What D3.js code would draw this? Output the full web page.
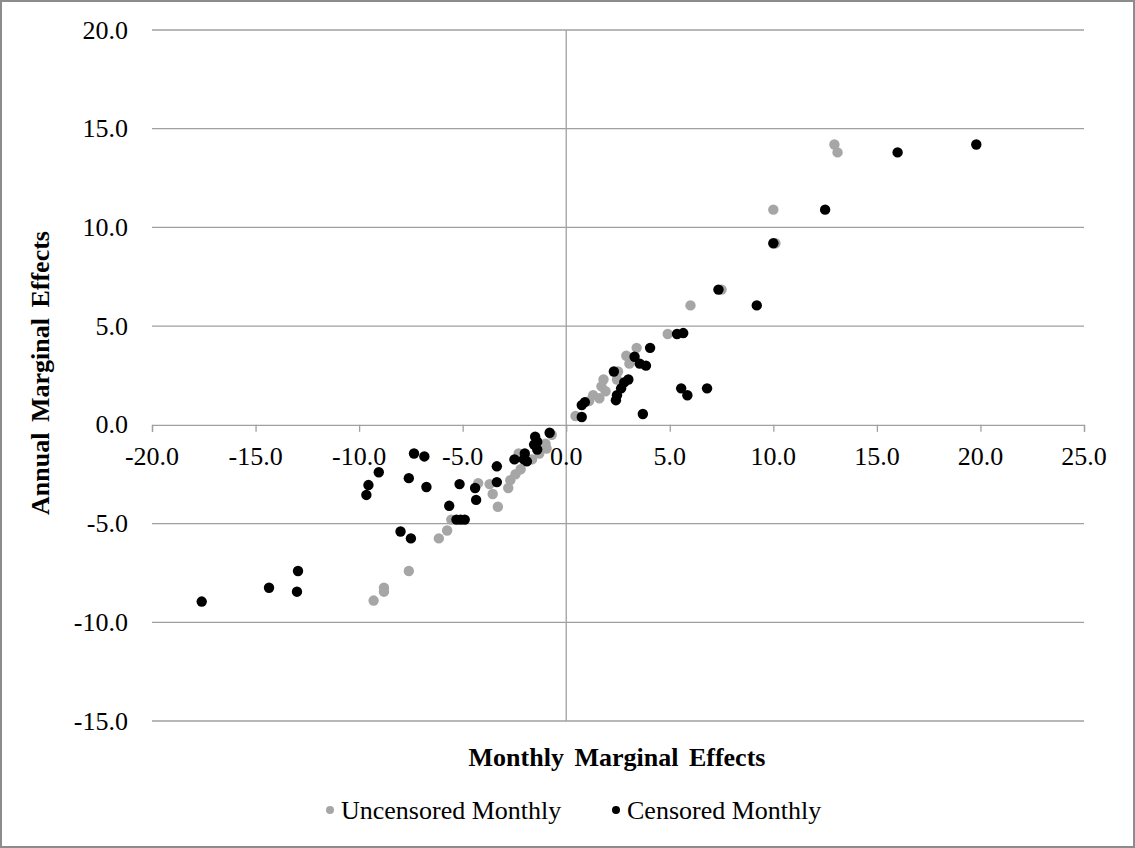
<!DOCTYPE html>
<html>
<head>
<meta charset="utf-8">
<script src="https://cdnjs.cloudflare.com/ajax/libs/d3/7.8.5/d3.min.js"></script>
<style>
  body { margin: 0; background: #fff; }
  svg text { font-family: "Liberation Serif", "Times New Roman", serif; fill: #000; }
</style>
</head>
<body>
<svg width="1135" height="848"></svg>
<script>
// uncensored (grey) points, [monthly, annual]
var uncensored = [
  [-9.3, -8.9], [-8.8, -8.25], [-8.8, -8.45], [-7.6, -7.4], [-6.15, -5.75], [-5.75, -5.35],
  [-5.55, -4.8], [-4.25, -2.95], [-3.7, -3.0], [-3.55, -3.5], [-3.3, -4.15], [-2.8, -3.2],
  [-2.7, -2.8], [-2.45, -2.5], [-2.2, -2.25], [-2.3, -1.45], [-1.65, -1.75], [-1.3, -1.45],
  [-1.0, -0.95], [-0.95, -1.2], [-0.7, -0.5],
  [0.45, 0.45], [1.1, 1.2], [1.3, 1.5], [1.6, 1.35], [1.9, 1.7], [1.7, 1.95], [1.8, 2.3],
  [2.45, 2.3], [2.5, 2.7], [3.05, 3.1], [2.9, 3.5], [3.4, 3.9], [4.9, 4.6], [6.0, 6.05],
  [7.5, 6.85], [10.1, 9.2], [10.0, 10.9], [12.95, 14.2], [13.1, 13.8]
];

// censored (black) points
var censored = [
  [-17.6, -8.95], [-14.35, -8.25], [-12.95, -7.4], [-13.0, -8.45], [-9.05, -2.4], [-9.55, -3.05],
  [-9.65, -3.55], [-7.35, -1.45], [-6.85, -1.6], [-7.6, -2.7], [-6.75, -3.15], [-8.0, -5.4],
  [-7.5, -5.75], [-5.15, -3.0], [-5.65, -4.1], [-5.3, -4.8], [-5.1, -4.8], [-4.9, -4.8],
  [-4.4, -3.2], [-4.35, -3.8], [-3.35, -2.1], [-3.35, -2.9], [-2.5, -1.75], [-2.05, -1.75],
  [-1.9, -1.85], [-2.0, -1.45], [-1.5, -0.6], [-1.4, -0.85], [-1.55, -1.0], [-1.4, -1.25],
  [-0.8, -0.4],
  [0.75, 0.4], [0.75, 1.0], [0.9, 1.15], [2.4, 1.25], [2.45, 1.5], [2.65, 1.85], [2.3, 2.7],
  [2.8, 2.15], [3.0, 2.3], [3.3, 3.45], [3.55, 3.1], [3.85, 3.0], [4.05, 3.9], [3.7, 0.55],
  [5.55, 1.85], [5.85, 1.5], [6.8, 1.85], [5.35, 4.6], [5.65, 4.65], [7.35, 6.85], [9.2, 6.05],
  [10.0, 9.2], [12.5, 10.9], [16.0, 13.8], [19.8, 14.2]
];

var xTicks = [-20, -15, -10, -5, 0, 5, 10, 15, 20, 25];
var yTicks = [-15, -10, -5, 0, 5, 10, 15, 20];
var seriesNames = ["Uncensored Monthly", "Censored Monthly"];
var seriesColors = ["#a6a6a6", "#000000"];

var svg = d3.select("svg");
var width = +svg.attr("width"),
    height = +svg.attr("height");

// plain hyphen minus like the original, not d3's unicode minus
function fmt(d) { return d.toFixed(1); }

// outer chart border
svg.append("rect")
    .attr("x", 1).attr("y", 1)
    .attr("width", width - 2).attr("height", height - 2)
    .attr("fill", "none")
    .attr("stroke", "#8c8c8c")
    .attr("stroke-width", 2);

var x = d3.scaleLinear().domain([-20, 25]).range([152, 1084]);
var y = d3.scaleLinear().domain([-15, 20]).range([721, 30]);

var gridColor = "#a0a0a0";

// horizontal gridlines
svg.append("g").selectAll("line")
    .data(yTicks.filter(function(d) { return d !== 0; }))
  .enter().append("line")
    .attr("x1", x(-20)).attr("x2", x(25))
    .attr("y1", function(d) { return y(d); })
    .attr("y2", function(d) { return y(d); })
    .attr("stroke", gridColor)
    .attr("stroke-width", 1.3);

// x axis through y = 0, ticks downward
var xAxis = d3.axisBottom(x)
    .tickValues(xTicks)
    .tickSize(7)
    .tickFormat(function(d) { return ""; });
var gx = svg.append("g")
    .attr("transform", "translate(0," + y(0) + ")")
    .call(xAxis);
gx.select(".domain").attr("stroke", gridColor).attr("stroke-width", 1.3);
gx.selectAll(".tick line").attr("stroke", gridColor).attr("stroke-width", 1.3);

// vertical axis through x = 0
svg.append("line")
    .attr("x1", x(0)).attr("x2", x(0))
    .attr("y1", y(20)).attr("y2", y(-15))
    .attr("stroke", gridColor)
    .attr("stroke-width", 1.3);

// x tick labels (below the zero line)
svg.append("g").selectAll("text")
    .data(xTicks)
  .enter().append("text")
    .attr("x", function(d) { return x(d); })
    .attr("y", y(0) + 40)
    .attr("text-anchor", "middle")
    .style("font-size", "26px")
    .text(fmt);

// y tick labels (left of the plot)
svg.append("g").selectAll("text")
    .data(yTicks)
  .enter().append("text")
    .attr("x", 128)
    .attr("y", function(d) { return y(d) + 8.5; })
    .attr("text-anchor", "end")
    .style("font-size", "26px")
    .text(fmt);

// points
var series = [uncensored, censored];
series.forEach(function(pts, i) {
  svg.append("g").selectAll("circle")
      .data(pts)
    .enter().append("circle")
      .attr("cx", function(d) { return x(d[0]); })
      .attr("cy", function(d) { return y(d[1]); })
      .attr("r", 5.2)
      .attr("fill", seriesColors[i]);
});

// axis titles
svg.append("text")
    .attr("x", 617)
    .attr("y", 766)
    .attr("text-anchor", "middle")
    .style("font-size", "26px")
    .style("font-weight", "bold")
    .style("word-spacing", "4px")
    .text("Monthly Marginal Effects");

svg.append("text")
    .attr("transform", "translate(49,373) rotate(-90)")
    .attr("text-anchor", "middle")
    .style("font-size", "26px")
    .style("font-weight", "bold")
    .style("word-spacing", "4px")
    .text("Annual Marginal Effects");

// legend
var legendX = [330, 616];
var legend = svg.append("g").selectAll("g")
    .data(seriesNames)
  .enter().append("g")
    .attr("transform", function(d, i) { return "translate(" + legendX[i] + ",810)"; });
legend.append("circle")
    .attr("r", 4)
    .attr("fill", function(d, i) { return seriesColors[i]; });
legend.append("text")
    .attr("x", 11)
    .attr("y", 9)
    .style("font-size", "26px")
    .text(function(d) { return d; });
</script>
</body>
</html>
